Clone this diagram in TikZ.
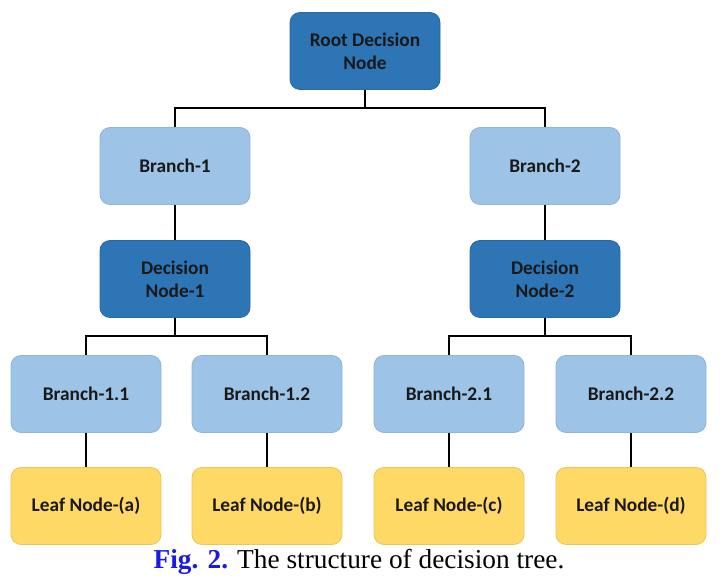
\documentclass[tikz,border=0pt]{standalone}
\usepackage{fontspec}
\setmainfont{Liberation Serif}
\newfontfamily\boxfont{Carlito}
\definecolor{darkb}{HTML}{2E75B6}
\definecolor{darkbd}{HTML}{2B68A2}
\definecolor{lightb}{HTML}{9DC3E6}
\definecolor{lightbd}{HTML}{8EB5DA}
\definecolor{leafy}{HTML}{FFD966}
\definecolor{leafyd}{HTML}{E9C55C}
\definecolor{capblue}{HTML}{1A1AE6}
\begin{document}
\begin{tikzpicture}[x=0.75pt,y=-0.75pt,
  box/.style={rounded corners=7.5pt, minimum width=112.5pt, minimum height=57.75pt,
    align=center, font=\boxfont\bfseries\fontsize{14.5}{17.25}\selectfont, text=black!90, line width=0.6pt},
  dec/.style={box, fill=darkb, draw=darkbd},
  br/.style={box, fill=lightb, draw=lightbd},
  leaf/.style={box, fill=leafy, draw=leafyd},
  conn/.style={line width=1.5pt, black}]
\useasboundingbox (0,0) rectangle (725,581);
\node[dec] (root) at (365,51) {Root Decision\\Node};
\node[br] (b1) at (175,166) {Branch-1};
\node[br] (b2) at (545,166) {Branch-2};
\node[dec] (d1) at (175,279) {Decision\\Node-1};
\node[dec] (d2) at (545,279) {Decision\\Node-2};
\node[br] (b11) at (86,394) {Branch-1.1};
\node[br] (b12) at (267,394) {Branch-1.2};
\node[br] (b21) at (449,394) {Branch-2.1};
\node[br] (b22) at (631,394) {Branch-2.2};
\node[leaf] (la) at (86,506) {Leaf Node-(a)};
\node[leaf] (lb) at (267,506) {Leaf Node-(b)};
\node[leaf] (lc) at (449,506) {Leaf Node-(c)};
\node[leaf] (ld) at (631,506) {Leaf Node-(d)};
\draw[conn] (root.south) |- (360,108) -| (b1.north);
\draw[conn] (root.south) |- (370,108) -| (b2.north);
\draw[conn] (b1) -- (d1);
\draw[conn] (b2) -- (d2);
\draw[conn] (d1.south) |- (170,336) -| (b11.north);
\draw[conn] (d1.south) |- (180,336) -| (b12.north);
\draw[conn] (d2.south) |- (540,336) -| (b21.north);
\draw[conn] (d2.south) |- (550,336) -| (b22.north);
\draw[conn] (b11) -- (la);
\draw[conn] (b12) -- (lb);
\draw[conn] (b21) -- (lc);
\draw[conn] (b22) -- (ld);
\node[font=\fontsize{20.5}{24}\selectfont, inner sep=0pt] (cap) at (359,562) {\textcolor{capblue}{\textbf{Fig. 2.}} The structure of decision tree.};
\end{tikzpicture}
\end{document}
